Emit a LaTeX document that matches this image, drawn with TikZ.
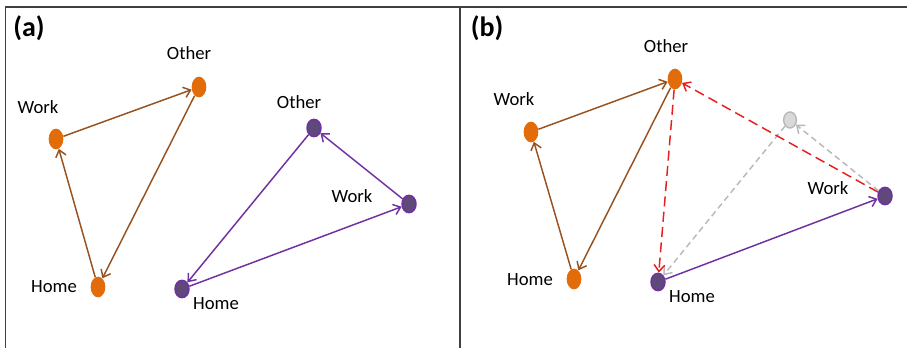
\documentclass[tikz,border=0pt]{standalone}
\usepackage{fontspec}
\setmainfont{Carlito}
\usetikzlibrary{shapes.geometric,arrows.meta}
\definecolor{orfill}{RGB}{227,108,10}
\definecolor{oredge}{RGB}{152,82,32}
\definecolor{pufill}{RGB}{95,73,122}
\definecolor{puedge}{RGB}{112,48,160}
\definecolor{grfill}{RGB}{217,217,217}
\definecolor{gredge}{RGB}{185,185,185}
\definecolor{rededge}{RGB}{230,30,30}
\definecolor{frame}{RGB}{64,64,64}
\tikzset{
  onode/.style={ellipse,fill=orfill,inner sep=0pt,minimum width=11pt,minimum height=15.5pt},
  pnode/.style={ellipse,fill=pufill,draw=puedge,line width=1.1pt,inner sep=0pt,minimum width=10.5pt,minimum height=13pt},
  gnode/.style={ellipse,fill=grfill,draw=gredge,line width=1.1pt,inner sep=0pt,minimum width=9.5pt,minimum height=12pt},
  lbl/.style={font=\fontsize{14}{16}\selectfont,inner sep=0pt},
  panel/.style={font=\fontsize{21}{24}\selectfont\bfseries,inner sep=0pt},
  tip/.style={-{Straight Barb[length=5pt,width=8pt]}},
  oarr/.style={tip,draw=oredge,line width=1.1pt},
  parr/.style={tip,draw=puedge,line width=1.1pt},
  rarr/.style={tip,draw=rededge,line width=1.1pt,dash pattern=on 7.5pt off 4pt},
  garr/.style={tip,draw=gredge,line width=1.1pt,dash pattern=on 4.5pt off 3pt},
  frameline/.style={draw=frame,line width=1.2pt}
}
\begin{document}
\begin{tikzpicture}[x=0.75pt,y=-0.75pt]
\useasboundingbox (0,0) rectangle (907,348);
% frame
\draw[frameline] (5.5,348) -- (5.5,7) -- (907,7);
\draw[frameline] (460,7) -- (460,348);
% panel labels
\node[panel] (pa) at (29,28) {(a)};
\node[panel] (pb) at (487,28) {(b)};
% ---------- panel (a)
\node[onode] (aow) at (56,139) {};
\node[onode] (aoo) at (199,87) {};
\node[onode] (aoh) at (98,287) {};
\node[pnode] (apo) at (314,128) {};
\node[pnode] (apw) at (409,204) {};
\node[pnode] (aph) at (182,289) {};
\node[lbl] (laoo) at (189,53) {Other};
\node[lbl] (laow) at (38,107) {Work};
\node[lbl] (laoh) at (54,287) {Home};
\node[lbl] (lapo) at (299,102) {Other};
\node[lbl] (lapw) at (352,196) {Work};
\node[lbl] (laph) at (216,304) {Home};
\draw[oarr] (aow) -- (aoo);
\draw[oarr] (aoo) -- (aoh);
\draw[oarr] (aoh) -- (aow);
\draw[parr] (aph) -- (apw);
\draw[parr] (apw) -- (apo);
\draw[parr] (apo) -- (aph);
% ---------- panel (b)
\node[onode] (bow) at (531,132) {};
\node[onode] (boo) at (675,79) {};
\node[onode] (boh) at (574,279) {};
\node[gnode] (bg) at (790,120) {};
\node[pnode] (bpw) at (885,196) {};
\node[pnode] (bph) at (658,282) {};
\node[lbl] (lboo) at (666,46) {Other};
\node[lbl] (lbow) at (514,99) {Work};
\node[lbl] (lboh) at (530,280) {Home};
\node[lbl] (lbpw) at (828,188) {Work};
\node[lbl] (lbph) at (692,297) {Home};
\draw[garr] (bpw) -- (bg);
\draw[garr] (bg) -- (bph);
\draw[oarr] (bow) -- (boo);
\draw[oarr] (boo) -- (boh);
\draw[oarr] (boh) -- (bow);
\draw[rarr] (bpw) -- (boo);
\draw[rarr] (boo) -- (bph);
\draw[parr] (bph) -- (bpw);
\end{tikzpicture}
\end{document}
